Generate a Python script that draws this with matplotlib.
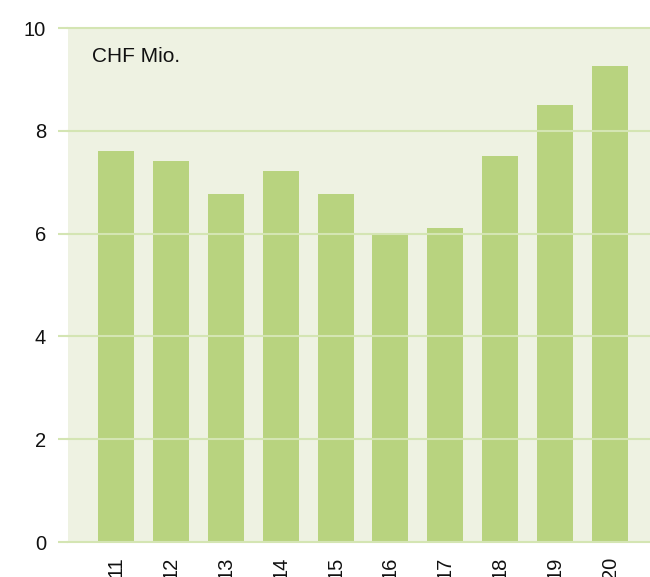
import numpy as np
import matplotlib.pyplot as plt

plt.rcParams['font.family'] = ['Liberation Sans', 'DejaVu Sans']

years = [11, 12, 13, 14, 15, 16, 17, 18, 19, 20]
labels = ["11", "12", "13", "14", "15", "16", "17", "18", "19", "20"]
values = [7.61, 7.41, 6.77, 7.22, 6.77, 6.01, 6.11, 7.51, 8.50, 9.26]

bar_color = "#b8d37f"
bg_color = "#eef2e2"
grid_color = "#d4e5b3"

fig = plt.figure(figsize=(6.5, 5.77), dpi=100)
ax = fig.add_axes([68/650, 35/577, 582/650, 514/577])
ax.set_facecolor(bg_color)

ax.bar(years, values, width=0.656, color=bar_color, zorder=2)

ax.set_xlim(10.126, 20.727)
ax.set_ylim(0, 10)
ax.set_yticks([0, 2, 4, 6, 8, 10])
ax.set_xticks(years)
ax.set_xticklabels(labels, rotation=90, fontsize=14.5, color="#111111")

for y in [0, 2, 4, 6, 8, 10]:
    ax.axhline(y, color=grid_color, lw=1.5, zorder=3, clip_on=False)

ax.tick_params(axis='y', length=7.2, width=1.5, color=grid_color, pad=8.6,
               labelsize=14.5, labelcolor="#111111")
ax.tick_params(axis='x', length=0, pad=10.5)
for s in ax.spines.values():
    s.set_visible(False)

ax.text(92/650, 1 - 57/577, "CHF Mio.", transform=fig.transFigure, fontsize=15,
        ha='left', va='center', color="#111111")

plt.savefig("out.png", dpi=100)
